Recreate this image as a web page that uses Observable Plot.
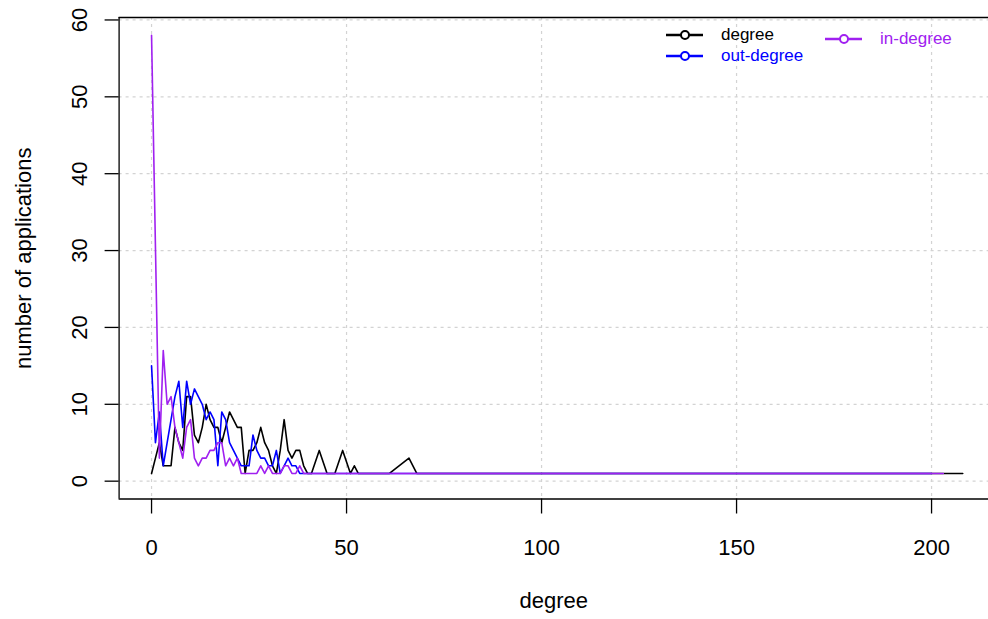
<!DOCTYPE html>
<html><head><meta charset="utf-8">
<script src="https://cdn.jsdelivr.net/npm/d3@7"></script>
<script src="https://cdn.jsdelivr.net/npm/@observablehq/plot@0.6"></script>
<style>
body{margin:0;background:#fff;font-family:"Liberation Sans",Arial,sans-serif;}
#wrap{position:relative;width:988px;height:619px;overflow:hidden;}
.leg{position:absolute;display:flex;align-items:center;font-size:17px;white-space:nowrap;height:14px;}
.leg svg{margin-right:18px;}
.leg span{display:inline-block;line-height:14px;height:14px;}
</style></head><body><div id="wrap"></div>
<script>
// degree distributions: x = degree, y = number of applications
const degreeX = [0,1,2,3,4,5,6,7,8,9,10,11,12,13,14,15,16,17,18,19,20,21,22,23,24,25,26,27,28,29,30,31,32,33,34,35,36,37,38,39,40,41,43,45,46,47,49,51,52,53,61,66,68,208];
const degreeY = [1,3,5,2,2,2,7,5,4,11,11,6,5,7,10,8,7,7,5,7,9,8,7,7,1,4,4,5,7,5,4,2,1,4,8,4,3,4,4,2,1,1,4,1,1,1,4,1,2,1,1,3,1,1];
const outX = [0,1,2,3,4,5,6,7,8,9,10,11,12,13,14,15,16,17,18,19,20,21,22,23,24,25,26,27,28,29,30,31,32,33,34,35,36,37,38,200];
const outY = [15,5,9,2,5,8,11,13,7,13,10,12,11,10,8,9,8,2,9,8,5,4,3,2,2,2,6,4,3,3,2,2,4,1,2,3,2,2,1,1];
const inX = [0,2,3,4,5,6,7,8,9,10,11,12,13,14,15,16,17,18,19,20,21,22,23,24,25,26,27,28,29,30,31,32,33,34,35,36,37,38,39,203];
const inY = [58,3,17,10,11,7,5,3,7,8,3,2,3,3,4,4,5,5,2,3,2,3,1,1,1,1,1,2,1,2,1,1,1,2,2,1,1,2,1,1];

const seriesNames = ["degree","out-degree","in-degree"];
const seriesColors = ["#000000","#0000FF","#A020F0"];
const xTicks = [0,50,100,150,200];
const yTicks = [0,10,20,30,40,50,60];
const xLabel = "degree";
const yLabel = "number of applications";

const xDomain = [-8.32, 214.6];
const yDomain = [-2.32, 60.32];

const toRows = (xs, ys) => xs.map((x, i) => ({x, y: ys[i]}));
const data = [toRows(degreeX, degreeY), toRows(outX, outY), toRows(inX, inY)];

const grid = {stroke:"#d3d3d3", strokeOpacity:1, strokeDasharray:"3,4", strokeWidth:1.2};

const chart = Plot.plot({
  width: 988, height: 619,
  marginLeft: 118.6, marginRight: 0, marginTop: 17, marginBottom: 120.5,
  x: {domain: xDomain, label: null},
  y: {domain: yDomain, label: null},
  style: {fontFamily: "'Liberation Sans', Arial, sans-serif", background: "white", color: "black"},
  marks: [
    Plot.gridX(xTicks, grid),
    Plot.gridY(yTicks, grid),
    Plot.axisX(xTicks, {tickSize: 15, tickPadding: 25, fontSize: 22, label: null, strokeWidth: 1.3}),
    Plot.axisY(yTicks, {tickSize: 14, tickFormat: () => "", label: null, strokeWidth: 1.3}),
    Plot.text(yTicks, {y: d => d, text: d => String(d), frameAnchor: "left", textAnchor: "middle", dx: -39, rotate: -90, fontSize: 22}),
    Plot.text([yLabel], {text: d => d, frameAnchor: "left", textAnchor: "middle", dx: -95, rotate: -90, fontSize: 22}),
    Plot.text([xLabel], {text: d => d, frameAnchor: "bottom", dy: 108.5, fontSize: 22}),
    ...data.map((rows, i) => Plot.line(rows, {x: "x", y: "y", stroke: seriesColors[i], strokeWidth: 1.6})),
    Plot.ruleX([xDomain[0]], {stroke: "black", strokeWidth: 1.3}),
    Plot.ruleY([yDomain[0], yDomain[1]], {stroke: "black", strokeWidth: 1.3})
  ]
});
const wrap = document.getElementById("wrap");
wrap.appendChild(chart);

// legend (two columns, like R's legend with ncol = 2)
const legendPos = [[666, 28], [666, 49], [825, 32]];
seriesNames.forEach((name, i) => {
  const d = document.createElement("div");
  d.className = "leg";
  d.style.left = legendPos[i][0] + "px";
  d.style.top = legendPos[i][1] + "px";
  d.style.color = seriesColors[i];
  d.innerHTML = `<svg width="37" height="14"><line x1="0" y1="7" x2="37" y2="7" stroke="${seriesColors[i]}" stroke-width="2.5"/><circle cx="19" cy="7" r="4" fill="white" stroke="${seriesColors[i]}" stroke-width="2"/></svg><span>${name}</span>`;
  wrap.appendChild(d);
});
</script>
</body></html>
